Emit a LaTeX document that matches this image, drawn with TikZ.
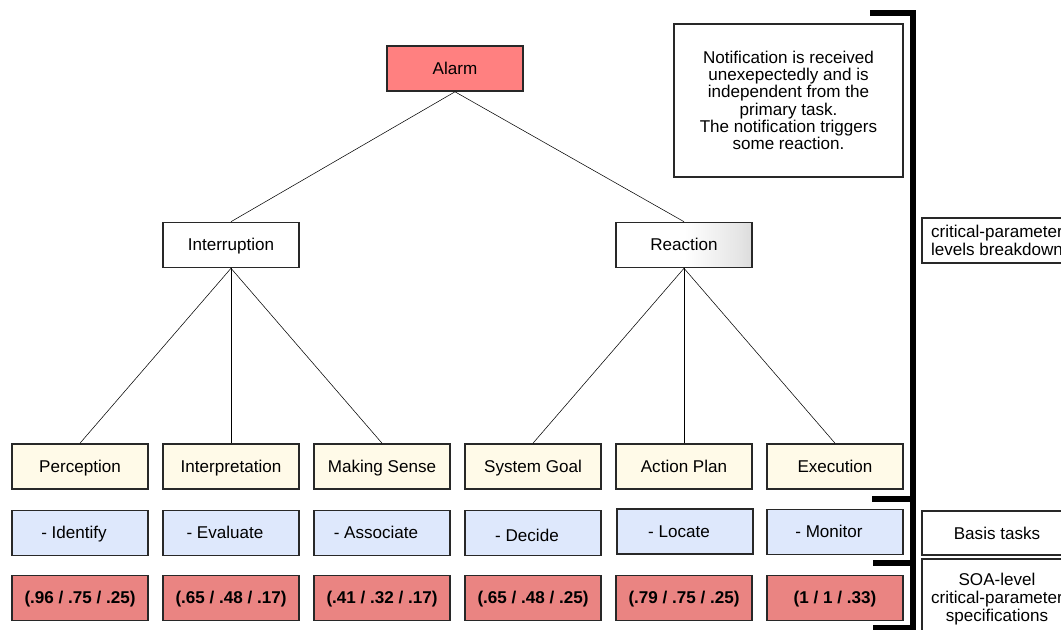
\documentclass[tikz,border=0pt]{standalone}
\usepackage{fontspec}
\setmainfont{Liberation Sans}
\usepackage{xcolor}
\usepackage{tikz}
\usetikzlibrary{positioning,calc}

\definecolor{alarmred}{RGB}{255,128,128}
\definecolor{paramred}{RGB}{234,132,130}
\definecolor{stagecream}{RGB}{255,250,232}
\definecolor{taskblue}{RGB}{222,232,252}
\definecolor{boxline}{RGB}{40,40,40}
\pgfdeclarehorizontalshading{reactionshade}{100bp}{color(0bp)=(white); color(50bp)=(white); color(70bp)=(white!90!black); color(100bp)=(black!33)}

\begin{document}
\begin{tikzpicture}[x=0.75pt,y=0.75pt,yscale=-1,xscale=1,
  box/.style={draw=boxline,line width=1.2pt,minimum width=102pt,minimum height=33.75pt,inner sep=0pt,text height=10pt,text depth=1.6pt,font=\fontsize{12.8}{14}\selectfont},
  stage/.style={box,fill=stagecream},
  basis/.style={box,fill=taskblue,execute at end node={\hspace{9pt}}},
  param/.style={box,fill=paramred,font=\fontsize{12.8}{14}\selectfont\bfseries},
  sidelabel/.style={draw=boxline,line width=1.2pt,align=center,inner sep=0pt,minimum width=112.5pt,font=\fontsize{12.8}{13.5}\selectfont},
  bracket/.style={line width=4pt}
]
\useasboundingbox (0,0) rectangle (1061,630);
\clip (0,0) rectangle (1061,630);

% top of the tree
\node[box,fill=alarmred] (alarm) at (455,68.5) {Alarm};
\node[box,fill=white] (interrupt) at (231,245) {Interruption};
\node[box,shading=reactionshade] (reaction) at (684,245) {Reaction};

% note
\node[sidelabel,minimum width=171.75pt,minimum height=114.75pt,font=\fontsize{12.8}{13}\selectfont] (note) at (788.5,100.5)
  {Notification is received\\unexepectedly and is\\independent from the\\primary task.\\The notification triggers\\some reaction.};

% stages
\node[stage] (perception) at (80,466.5) {Perception};
\node[stage] (interpretation) at (231,466.5) {Interpretation};
\node[stage] (makingsense) at (382,466.5) {Making Sense};
\node[stage] (systemgoal) at (533,466.5) {System Goal};
\node[stage] (actionplan) at (684,466.5) {Action Plan};
\node[stage] (execution) at (835,466.5) {Execution};

% basis tasks
\node[basis] (identify) at (80,533) {- Identify};
\node[basis] (evaluate) at (231,533) {- Evaluate};
\node[basis] (associate) at (382,533) {- Associate};
\node[basis] (decide) at (533,533) {\raisebox{-2pt}{- Decide}};
\node[basis] (locate) at (685,531.5) {- Locate};
\node[basis] (monitor) at (835,532) {- Monitor};

% parameter values
\node[param] (perceptionval) at (80,598) {(.96 / .75 / .25)};
\node[param] (interpretationval) at (231,598) {(.65 / .48 / .17)};
\node[param] (makingsenseval) at (382,598) {(.41 / .32 / .17)};
\node[param] (systemgoalval) at (533,598) {(.65 / .48 / .25)};
\node[param] (actionplanval) at (684,598) {(.79 / .75 / .25)};
\node[param] (executionval) at (835,598) {(1 / 1 / .33)};

% connectors
\draw (alarm.south) -- (interrupt.north);
\draw (alarm.south) -- (reaction.north);
\draw (interrupt.south) -- (perception.north);
\draw (interrupt.south) -- (interpretation.north);
\draw (interrupt.south) -- (makingsense.north);
\draw (reaction.south) -- (systemgoal.north);
\draw (reaction.south) -- (actionplan.north);
\draw (reaction.south) -- (execution.north);

% bracket on the right
\draw[bracket] (870,13) -- (913,13) -- (913,632);
\draw[bracket] (872,499) -- (913,499);
\draw[bracket] (873,563) -- (913,563);
\draw[bracket] (873,628) -- (913,628);

% side labels
\node[sidelabel,minimum height=33.75pt] (levels) at (997,240.5) {critical-parameter\\levels breakdown};
\node[sidelabel,minimum height=33pt] (basistasks) at (997,533) {Basis tasks};
\node[sidelabel,minimum height=60pt] (soa) at (997,599) {SOA-level\\critical-parameter\\specifications};

\end{tikzpicture}
\end{document}
